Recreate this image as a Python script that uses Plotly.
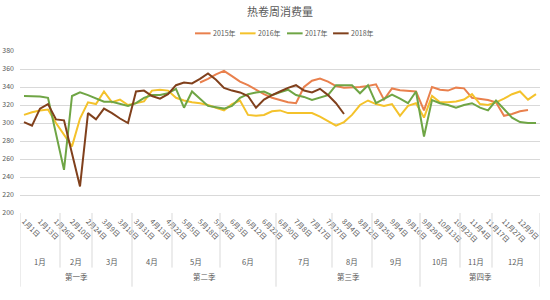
import plotly.graph_objects as go

# ---------------- data ----------------
N_WEEKS = 65
date_ticks = ["1月1日", "1月13日", "1月26日", "2月10日", "2月24日", "3月9日", "3月18日",
              "3月31日", "4月13日", "4月22日", "5月5日", "5月18日", "5月26日", "6月3日",
              "6月12日", "6月22日", "6月30日", "7月8日", "7月17日", "7月27日", "8月4日",
              "8月12日", "8月25日", "9月4日", "9月16日", "9月29日", "10月13日", "10月23日",
              "11月4日", "11月17日", "11月27日", "12月9日", "12月22日"]
months = ["1月", "2月", "3月", "4月", "5月", "6月", "7月", "8月", "9月", "10月", "11月", "12月"]
month_weeks = [5, 4, 5, 5, 6, 7, 7, 5, 6, 5, 4, 6]
quarters = ["第一季", "第二季", "第三季", "第四季"]

years = ["2015年", "2016年", "2017年", "2018年"]
colors = ["#E9804D", "#F4C22B", "#6FA545", "#80401C"]

s2015 = [None] * 22 + [
    345, 349, 354, 358, 352, 346, 342, 337, 332, 328, 325.5, 323, 322, 340, 347, 349.5,
    346, 341, 339.3, 339.3, 340, 341, 343, 326, 338.4, 336.5, 336, 335, 314, 340, 337,
    336, 339.3, 338.5, 328, 327, 325.5, 323, 308, 310, 313, 314.4] + [None]
s2016 = [309, 312, 314, 315, 300, 287, 274, 305, 323, 321, 335, 323, 326, 320, 322, 324,
         336, 337, 336, 328, 325, 323, 322, 320, 317, 314, 321, 325, 309, 308, 309, 313,
         314, 311, 311, 311, 311, 307, 302, 297, 301, 309, 320, 325, 321, 319, 321, 308,
         319, 322, 306, 330, 323, 323, 324, 326, 332, 321, 320, 323, 327, 332, 335, 326, 332]
s2017 = [330, 330, 329.5, 328, 288, 248, 330, 334, 331, 327, 323.6, 323.6, 321, 319, 322,
         328, 331, 331, 333, 338, 317, 335, 327, 319, 317.5, 316, 319, 328, 332, 334, 335,
         331, 334, 337, 331, 329, 325.5, 328, 331, 342, 342, 342, 333, 342, 322, 327, 331.5,
         327, 322, 335, 285, 325.5, 322, 320, 317, 320, 322, 317, 314, 325, 315, 306, 301,
         300, 300]
s2018 = [301, 297, 316, 321, 304, 303, 266, 229.5, 311, 304, 316, 311, 305, 300, 335, 336,
         330, 327, 332, 342, 345, 344, 349, 355, 348, 339, 336, 334, 330, 317, 326, 331,
         335, 339, 342, 336, 334, 338, 331, 322, 310] + [None] * 24

series = [s2015, s2016, s2017, s2018]
for s in series:
    assert len(s) == N_WEEKS
assert sum(month_weeks) == N_WEEKS

# ---------------- figure ----------------
FONT = "Noto Sans CJK SC"
TXT = "#595959"
GRID = "#D9D9D9"
x = list(range(N_WEEKS))

fig = go.Figure()
for name, col, s in zip(years, colors, series):
    fig.add_trace(go.Scatter(x=x, y=s, mode="lines", name=name,
                             line=dict(color=col, width=2), showlegend=False))

shapes = []
annotations = []

# month / quarter grouping below the axis
bounds = [-0.5]
for w in month_weeks:
    bounds.append(bounds[-1] + w)
for k, b in enumerate(bounds):
    is_quarter = (k % 3 == 0)
    shapes.append(dict(type="line", xref="x", yref="paper", x0=b, x1=b,
                       y0=0, y1=-0.455 if is_quarter else -0.337,
                       line=dict(color=GRID, width=1)))
for k, m in enumerate(months):
    annotations.append(dict(text=m, x=(bounds[k] + bounds[k + 1]) / 2, y=-0.30,
                            xref="x", yref="paper", showarrow=False,
                            font=dict(family=FONT, size=7.5, color=TXT),
                            xanchor="center", yanchor="middle"))
for q, name in enumerate(quarters):
    annotations.append(dict(text=name, x=(bounds[3 * q] + bounds[3 * q + 3]) / 2, y=-0.39,
                            xref="x", yref="paper", showarrow=False,
                            font=dict(family=FONT, size=7.5, color=TXT),
                            xanchor="center", yanchor="middle"))

# custom compact legend
leg_line_x = [0.3365, 0.423, 0.5135, 0.602]
leg_y = 1.109
for name, col, lx in zip(years, colors, leg_line_x):
    shapes.append(dict(type="line", xref="paper", yref="paper", x0=lx, x1=lx + 0.030,
                       y0=leg_y, y1=leg_y, line=dict(color=col, width=2)))
    annotations.append(dict(text=name, x=lx + 0.031, y=leg_y, xref="paper", yref="paper",
                            showarrow=False, xanchor="left", yanchor="middle",
                            font=dict(family=FONT, size=7, color=TXT)))

fig.update_layout(
    template="none",
    width=550, height=300,
    margin=dict(l=20, r=10, t=51, b=87, autoexpand=False),
    paper_bgcolor="white", plot_bgcolor="white",
    font=dict(family=FONT, size=7, color=TXT),
    title=dict(text="热卷周消费量", x=0.5, xref="paper", y=0.96, yref="container",
               xanchor="center", yanchor="middle",
               font=dict(family=FONT, size=11, color=TXT)),
    shapes=shapes, annotations=annotations,
    xaxis=dict(range=[-0.5, N_WEEKS - 0.5], tickmode="array",
               tickvals=x[::2], ticktext=date_ticks, tickangle=45,
               showgrid=False, zeroline=False, showline=False, ticks="",
               tickfont=dict(family=FONT, size=7, color=TXT), automargin=False,
               ticklabelstandoff=2),
    yaxis=dict(range=[200, 380], dtick=20, tick0=200, showgrid=True, gridcolor=GRID,
               gridwidth=0.75, zeroline=False, showline=False, ticks="",
               tickfont=dict(family=FONT, size=7, color=TXT), automargin=False,
               ticklabelstandoff=5),
)

fig.write_html("out.html")
